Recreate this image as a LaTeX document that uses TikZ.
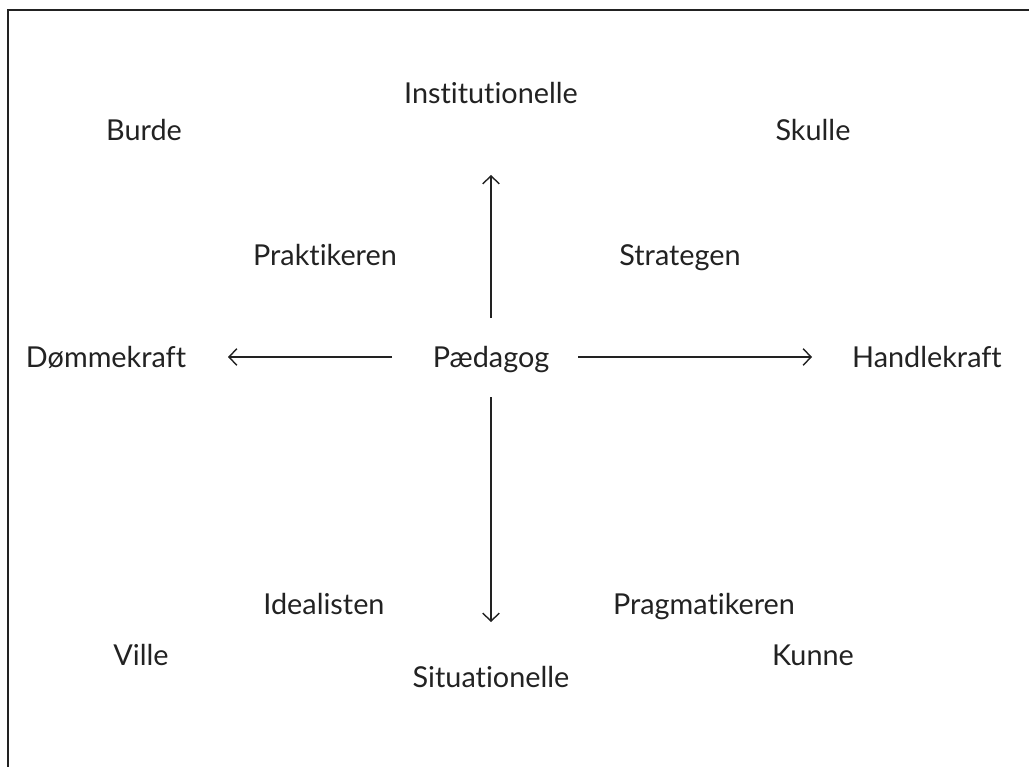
\documentclass[tikz,border=0pt]{standalone}
\usepackage{fontspec}
\setmainfont{Lato}[Ligatures=NoCommon]
\usetikzlibrary{arrows.meta}
\definecolor{ink}{HTML}{222222}
\tikzset{
    label/.style={text=ink, font=\fontsize{16.4}{20}\selectfont, inner sep=0pt, anchor=base},
    axis/.style={-{Straight Barb[length=4.5pt, width=9.5pt]}, ink, line width=0.8pt},
}
\begin{document}
\begin{tikzpicture}[x=0.02cm, y=-0.02cm]
    \useasboundingbox (0, 0) rectangle (1029, 767);

    % Frame
    \draw[ink, line width=0.8pt] (8, 767) -- (8, 10) -- (1029, 10);

    % Centre and ends of the axes
    \node[label] (p) at (491, 367) {Pædagog};
    \node[label] (inst) at (491, 104) {Institutionelle};
    \node[label] (sit) at (491, 687) {Situationelle};
    \node[label] (dom) at (106, 367) {Dømmekraft};
    \node[label] (hand) at (927, 367) {Handlekraft};

    % Corners
    \node[label] (burde) at (144, 141) {Burde};
    \node[label] (skulle) at (813, 141) {Skulle};
    \node[label] (ville) at (141, 665) {Ville};
    \node[label] (kunne) at (813, 665) {Kunne};

    % Quadrants
    \node[label] (prak) at (325, 266) {Praktikeren};
    \node[label] (strat) at (680, 266) {Strategen};
    \node[label] (ideal) at (324, 614) {Idealisten};
    \node[label] (prag) at (704, 614) {Pragmatikeren};

    % Arrows
    \coordinate (pn) at (491, 318);
    \coordinate (ps) at (491, 397);
    \coordinate (pw) at (392, 357);
    \coordinate (pe) at (578, 357);
    \coordinate (up) at (491, 175);
    \coordinate (down) at (491, 622);
    \coordinate (left) at (228, 357);
    \coordinate (right) at (812, 357);
    \draw[axis] (pn) -- (up);
    \draw[axis] (ps) -- (down);
    \draw[axis] (pw) -- (left);
    \draw[axis] (pe) -- (right);
\end{tikzpicture}
\end{document}
